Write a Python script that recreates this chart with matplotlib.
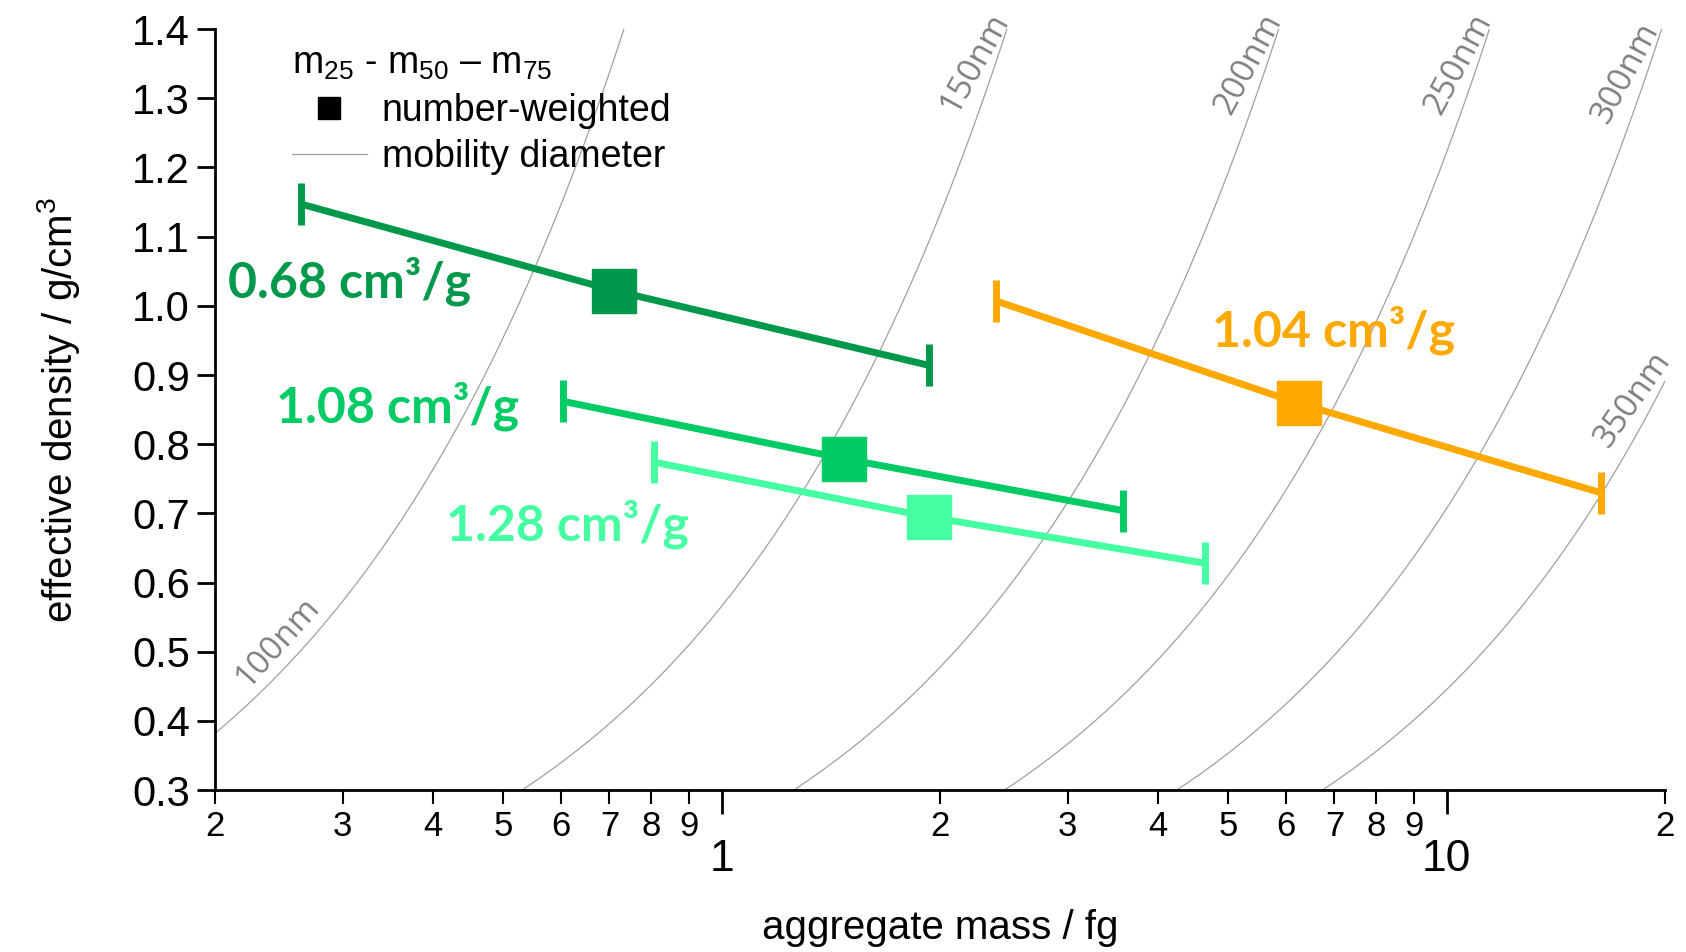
import matplotlib
matplotlib.use("Agg")
import matplotlib.pyplot as plt
import numpy as np
from matplotlib.lines import Line2D
from matplotlib.ticker import LogLocator, FuncFormatter, MultipleLocator

plt.rcParams['font.family'] = ['Liberation Sans', 'DejaVu Sans']
plt.rcParams['mathtext.fontset'] = 'custom'
plt.rcParams['mathtext.rm'] = 'Liberation Sans'
plt.rcParams['mathtext.it'] = 'Liberation Sans'

# m25, m50, m75 (fg) and effective density (g/cm3)
names = ['0.68 cm³/g', '1.08 cm³/g', '1.28 cm³/g', '1.04 cm³/g']
colors = ['#00984A', '#00CB65', '#45FFA2', '#FFA800']
mass = [[0.263, 0.711, 1.93],
        [0.604, 1.475, 3.58],
        [0.807, 1.93, 4.64],
        [2.39, 6.25, 16.3]]
rho = [[1.147, 1.022, 0.914],
       [0.862, 0.779, 0.704],
       [0.774, 0.695, 0.628],
       [1.007, 0.859, 0.730]]

# mobility diameters of the reference curves (nm)
diameters = [100, 150, 200, 250, 300, 350]

fig = plt.figure(figsize=(16.86, 9.52), dpi=100)
ax = fig.add_axes([0.1275, 0.170, 0.860, 0.7995])

# lines of constant mobility diameter: rho = 6 m / (pi d^3)
m = np.logspace(np.log10(0.2), np.log10(20), 400)
for d in diameters:
    r = 6 * m * 1e-15 / (np.pi * (d * 1e-7) ** 3)
    ax.plot(m, r, color='#a0a0a0', lw=0.9, zorder=1)

for x, y, c in zip(mass, rho, colors):
    ax.plot(x, y, color=c, lw=5, zorder=3, solid_capstyle='butt')
    ax.plot([x[0], x[2]], [y[0], y[2]], ls='none', marker='|', ms=30, mew=5, color=c, zorder=4)
    ax.plot(x[1], y[1], ls='none', marker='s', ms=31, color=c, zorder=5)

# slope labels
label_pos = [(0.2083, 1.035), (0.2427, 0.855), (0.416, 0.685), (4.75, 0.965)]
for (tx, ty), t, c in zip(label_pos, names, colors):
    ax.text(tx, ty, t, color=c, fontsize=36, fontweight='bold', family=['Lato', 'DejaVu Sans'],
            ha='left', va='center', zorder=6)

# curve labels
curve_lab = [(0.2445, 0.514, 48), (2.236, 1.352, 61), (5.32, 1.349, 62),
             (10.38, 1.349, 62), (17.67, 1.336, 62), (18.04, 0.864, 55)]
for (cx, cy, rot), d in zip(curve_lab, diameters):
    ax.text(cx, cy, f'{d}nm', color='#7f7f7f', fontsize=24, rotation=rot,
            ha='center', va='center', family=['Open Sans', 'DejaVu Sans'])

ax.set_xscale('log')
ax.set_xlim(0.2, 20)
ax.set_ylim(0.3, 1.4)
ax.yaxis.set_major_locator(MultipleLocator(0.1))
ax.yaxis.set_major_formatter(FuncFormatter(lambda v, p: f'{v:.1f}'))

ax.xaxis.set_major_locator(LogLocator(base=10, subs=(1.0,)))
ax.xaxis.set_minor_locator(LogLocator(base=10, subs=np.arange(2, 10)))
ax.xaxis.set_major_formatter(FuncFormatter(lambda v, p: f'{v:g}'))
ax.xaxis.set_minor_formatter(FuncFormatter(lambda v, p: f'{v / 10 ** np.floor(np.log10(v) + 1e-9):.0f}'))

for s in ['top', 'right']:
    ax.spines[s].set_visible(False)
for s in ['left', 'bottom']:
    ax.spines[s].set_linewidth(2)

ax.tick_params(axis='y', which='major', length=13, width=2, labelsize=30, pad=5)
ax.tick_params(axis='x', which='major', length=17, width=2, labelsize=32, pad=18)
ax.tick_params(axis='x', which='minor', length=10, width=1.5, labelsize=25, pad=4)

ax.set_xlabel('aggregate mass / fg', fontsize=29, labelpad=21)
ax.set_ylabel('effective density / g/cm$^3$', fontsize=29, labelpad=36)

handles = [Line2D([], [], ls='none', marker='s', ms=16, color='black'),
           Line2D([], [], color='#a0a0a0', lw=0.9)]
leg = ax.legend(handles, ['number-weighted', 'mobility diameter'],
                title=r'm$_{25}$ - m$_{50}$ – m$_{75}$', title_fontsize=27, fontsize=27,
                loc='upper left', bbox_to_anchor=(0.035, 1.012), frameon=False,
                alignment='left', handlelength=2.0, handletextpad=0.4, labelspacing=0.28,
                borderpad=0.2)

fig.savefig('out.png', dpi=100)
